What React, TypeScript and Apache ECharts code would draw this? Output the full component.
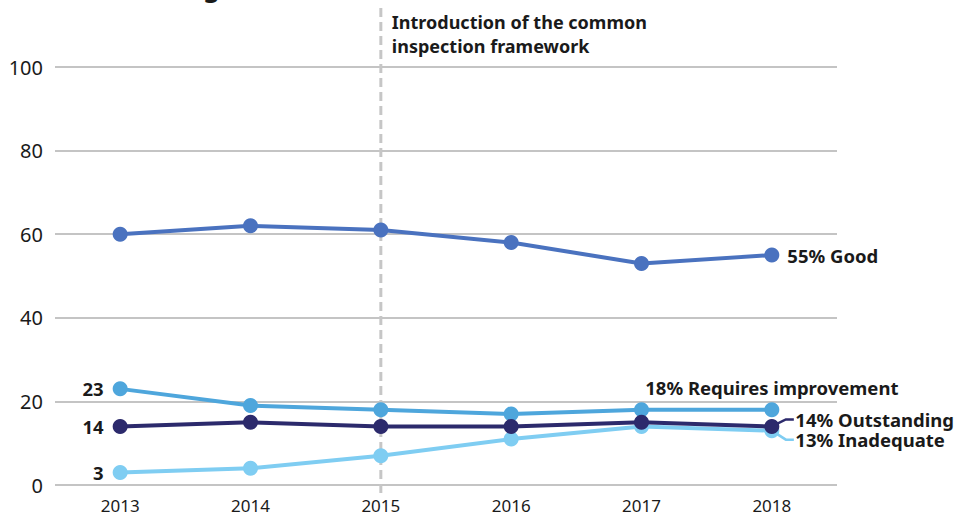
import React, { useEffect, useRef } from 'react';
import * as echarts from 'echarts';

const years = ['2013', '2014', '2015', '2016', '2017', '2018'];
const good = [60, 62, 61, 58, 53, 55];
const requiresImprovement = [23, 19, 18, 17, 18, 18];
const outstanding = [14, 15, 14, 14, 15, 14];
const inadequate = [3, 4, 7, 11, 14, 13];
const yTicks = [0, 20, 40, 60, 80, 100];
const frameworkYear = '2015';
const frameworkNote = 'Introduction of the common\ninspection framework';
const chartTitle = '%, overall rating';

const FONT = '"Noto Sans", "Open Sans", sans-serif';
const C_GOOD = '#4a72bf';
const C_RI = '#4ea6dc';
const C_OUT = '#2c2a6c';
const C_INAD = '#7fcdf2';

const labelStyle = { fontFamily: FONT, fontSize: 18.5, lineHeight: 18, fontWeight: 'bold' as const, color: '#1a1a1a' };

function buildData(values: number[], name: string, startLabel: boolean, endLabel: any) {
  return values.map((v, i) => {
    const item: any = { value: v };
    if (i === 0 && startLabel) {
      item.label = { show: true, position: 'left', distance: 9, formatter: String(v), ...labelStyle };
    }
    if (i === values.length - 1 && endLabel) {
      item.label = { show: true, formatter: `${v}% ${name}`, ...labelStyle, ...endLabel };
    }
    return item;
  });
}

export default function App() {
  const ref = useRef<HTMLDivElement>(null);
  useEffect(() => {
    if (!ref.current) return;
    const chart = echarts.init(ref.current, undefined, { renderer: 'svg' });
    const mk = (name: string, color: string, data: any[], z: number) => ({
      name,
      type: 'line',
      data,
      z,
      symbol: 'circle',
      symbolSize: 15,
      lineStyle: { color, width: 4 },
      itemStyle: { color },
      label: { show: false },
    });
    chart.setOption({
      animation: false,
      grid: { left: 55, right: 122, top: 67, bottom: 32 },
      xAxis: {
        type: 'category',
        data: years,
        boundaryGap: true,
        axisLine: { show: false },
        axisTick: { show: false },
        axisLabel: { fontFamily: FONT, fontSize: 17, color: '#1a1a1a', margin: 12 },
      },
      yAxis: {
        type: 'value',
        min: yTicks[0],
        max: yTicks[yTicks.length - 1],
        interval: yTicks[1] - yTicks[0],
        axisLine: { show: false },
        axisTick: { show: false },
        axisLabel: { fontFamily: FONT, fontSize: 20, color: '#1a1a1a', margin: 12 },
        splitLine: { lineStyle: { color: '#c4c4c4', width: 2 } },
      },
      series: [
        mk('Inadequate', C_INAD, buildData(inadequate, 'Inadequate', true, { position: 'right', distance: 8, offset: [8, 9] }), 2),
        mk('Requires improvement', C_RI, buildData(requiresImprovement, 'Requires improvement', true, { position: 'top', distance: 6 }), 3),
        mk('Outstanding', C_OUT, buildData(outstanding, 'Outstanding', true, { position: 'right', distance: 8, offset: [8, -7] }), 4),
        mk('Good', C_GOOD, buildData(good, 'Good', false, { position: 'right', distance: 8 }), 5),
      ],
    });

    const last = years.length - 1;
    const pOut = chart.convertToPixel({ gridIndex: 0 }, [last, outstanding[last]]) as number[];
    const pInad = chart.convertToPixel({ gridIndex: 0 }, [last, inadequate[last]]) as number[];
    const xFw = chart.convertToPixel({ xAxisIndex: 0 }, frameworkYear) as number;
    const yBottom = chart.convertToPixel({ yAxisIndex: 0 }, 0) as number;

    chart.setOption({
      graphic: [
        {
          type: 'text',
          left: 8,
          top: -26,
          style: { text: chartTitle, fontFamily: FONT, fontSize: 26, fontWeight: 'bold', fill: '#1a1a1a' },
        },
        {
          type: 'line',
          z: 0,
          shape: { x1: xFw, y1: 8, x2: xFw, y2: yBottom + 8 },
          style: { stroke: '#c6c6c6', lineWidth: 3, lineDash: [9, 5] },
        },
        {
          type: 'text',
          x: xFw + 11,
          y: 10,
          style: { text: frameworkNote, fontFamily: FONT, fontSize: 18, fontWeight: 'bold', fill: '#1a1a1a', lineHeight: 24 },
        },
        {
          type: 'polyline',
          z: 1,
          shape: { points: [[pOut[0], pOut[1]], [pOut[0] + 14, pOut[1] - 7], [pOut[0] + 22, pOut[1] - 7]] },
          style: { stroke: C_OUT, lineWidth: 2.5, fill: 'none' },
        },
        {
          type: 'polyline',
          z: 1,
          shape: { points: [[pInad[0], pInad[1]], [pInad[0] + 14, pInad[1] + 9], [pInad[0] + 22, pInad[1] + 9]] },
          style: { stroke: C_INAD, lineWidth: 2.5, fill: 'none' },
        },
      ],
    });
    return () => chart.dispose();
  }, []);
  return <div ref={ref} style={{ position: 'absolute', left: 0, top: 0, width: 959, height: 517 }} />;
}
